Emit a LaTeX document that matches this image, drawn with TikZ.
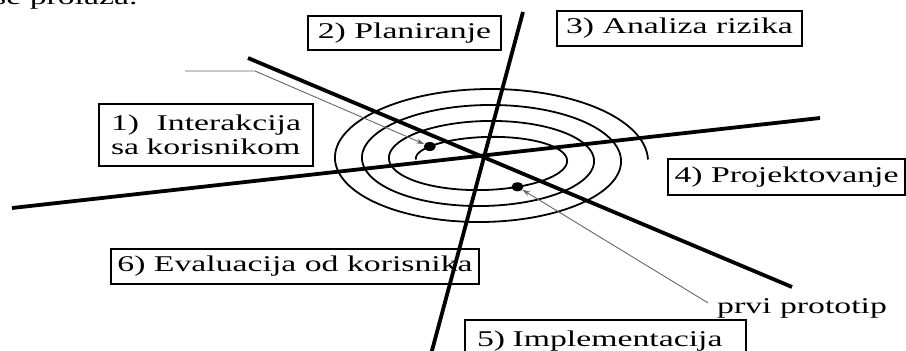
\documentclass[tikz,border=0pt]{standalone}
\usepackage{fontspec}
\setmainfont{Liberation Serif}[FakeStretch=1.5]
\usetikzlibrary{arrows.meta,shapes.geometric}
\begin{document}
\begin{tikzpicture}[x=1pt,y=-1pt,
  lbl/.style={draw=black, line width=1.4pt, font=\fontsize{22.5}{24}\selectfont, inner sep=0pt},
  txt/.style={font=\fontsize{22.5}{24}\selectfont, inner sep=0pt},
  axisline/.style={line width=3.8pt},
  spir/.style={line width=1.8pt},
  ptr/.style={draw=black!60, line width=0.9pt, -{Stealth[length=8pt,width=5pt]}},
  dotm/.style={ellipse, fill=black, minimum width=12pt, minimum height=9pt, inner sep=0pt}]
\clip (0,0) rectangle (906,351);
\useasboundingbox (0,0) rectangle (906,351);
% partial text at top
\node[txt, anchor=base west] (top) at (-7,4.5) {se prolaza.};
% boxes
\node[lbl, minimum width=214pt, minimum height=62pt, text width=190pt, align=left] (b1) at (206,135) {1)\hfill Interakcija\\sa korisnikom};
\node[lbl, minimum width=193pt, minimum height=34pt] (b2) at (404.5,33) {2) Planiranje};
\node[lbl, minimum width=245pt, minimum height=35pt] (b3) at (679.5,28.5) {3) Analiza rizika};
\node[lbl, minimum width=237pt, minimum height=36pt] (b4) at (786.5,177) {4) Projektovanje};
\node[lbl, minimum width=281pt, minimum height=42pt, text width=257pt, align=left, inner xsep=12pt] (b5) at (605.5,341) {5) Implementacija};
\node[lbl, minimum width=368pt, minimum height=35pt] (b6) at (295,266.5) {6) Evaluacija od korisnika};
\node[txt, anchor=base west] (pp) at (717,313) {prvi prototip};
% axes
\coordinate (a1) at (523,12);
\coordinate (a2) at (430,358);
\coordinate (l1) at (12,208);
\coordinate (l2) at (820,118);
\coordinate (c1) at (248,58);
\coordinate (c2) at (792,287);
\draw[axisline] (a1) -- (a2);
\draw[axisline] (l1) -- (l2);
\draw[axisline] (c1) -- (c2);
% spiral
\draw[spir] plot[domain=180:-1080, samples=600, smooth, variable=\t]
  ({484.75+(82.25-0.075*\t)*cos(\t)}, {159.5-(22.5+(90-\t)*0.0444)*sin(\t)});
% dots
\node[dotm] (d1) at (429.8,146.5) {};
\node[dotm] (d2) at (517.5,186.8) {};
% pointers
\coordinate (t1) at (185,71);
\coordinate (k1) at (255,71);
\draw[ptr] (t1) -- (k1) -- (d1);
\draw[ptr] ([xshift=-9pt,yshift=-5pt]pp.north west) -- (d2);
\end{tikzpicture}
\end{document}
